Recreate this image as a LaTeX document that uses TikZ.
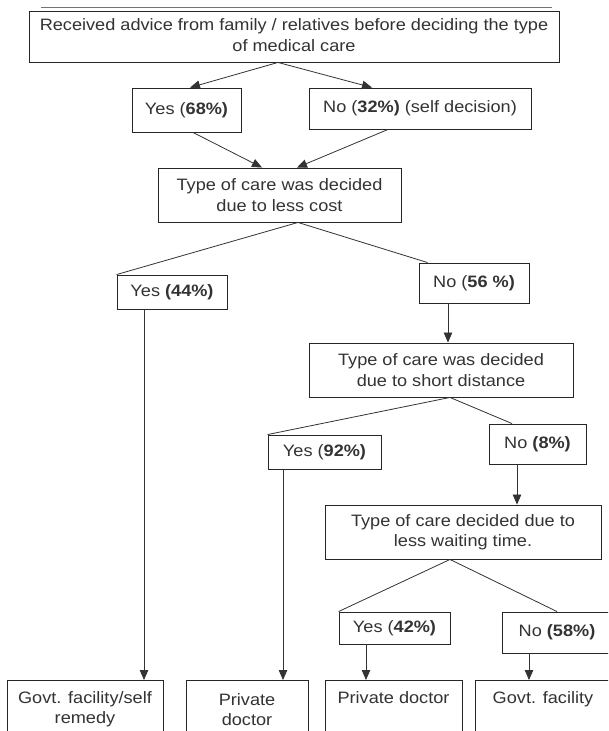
\documentclass[tikz,border=0pt]{standalone}
\usepackage{fontspec}
\setmainfont[FakeStretch=1.1]{Liberation Sans}
\usetikzlibrary{arrows.meta}
\begin{document}
\begin{tikzpicture}[x=1pt,y=-1pt,
  box/.style={draw=black!85, line width=0.9pt, inner sep=0pt, align=center, text=black!80,
    font=\fontsize{16.5}{20.5}\selectfont},
  bottombox/.style={box, anchor=north, minimum height=58pt},
  arr/.style={draw=black!80, line width=0.8pt, -{Triangle[length=10pt,width=8.5pt]}},
  ln/.style={draw=black!80, line width=0.8pt}]
\fill[white] (0,0) rectangle (608,731);
\useasboundingbox (0,0) rectangle (608,731);
\clip (0,0) rectangle (608,731);
\draw[black!55, line width=0.8pt] (41,7) -- (552,7);
% nodes
\node[box, minimum width=530pt, minimum height=51pt] (top) at (294,36.5)
  {\raisebox{3pt}{\shortstack{Received advice from family / relatives before deciding the type\\[2pt]of medical care}}};
\node[box, minimum width=109pt, minimum height=44pt] (yes68) at (186.5,110) {Yes (\textbf{68\%)}};
\node[box, minimum width=222pt, minimum height=41pt] (no32) at (420,108.5) {No (\textbf{32\%)} (self decision)};
\node[box, minimum width=243pt, minimum height=54pt] (cost) at (279.5,195) {Type of care was decided\\due to less cost};
\node[box, minimum width=110pt, minimum height=34pt] (yes44) at (172,292) {Yes \textbf{(44\%)}};
\node[box, minimum width=110pt, minimum height=40pt] (no56) at (474,283) {No (\textbf{56 \%)}};
\node[box, minimum width=264pt, minimum height=54pt] (dist) at (441,370) {Type of care was decided\\due to short distance};
\node[box, minimum width=113pt, minimum height=34pt] (yes92) at (324.5,452) {Yes (\textbf{92\%)}};
\node[box, minimum width=97pt, minimum height=40pt] (no8) at (537.5,444) {No \textbf{(8\%)}};
\node[box, minimum width=276pt, minimum height=54pt] (wait) at (463,532) {Type of care decided due to\\less waiting time.};
\node[box, minimum width=111pt, minimum height=32pt] (yes42) at (394.5,628) {Yes (\textbf{42\%)}};
\node[box, minimum width=110pt, minimum height=41pt] (no58) at (557,632.5) {No \textbf{(58\%)}};
\node[bottombox, minimum width=156pt] (b1) at (85,680) {Govt. facility/self\\remedy};
\node[bottombox, minimum width=122pt] (b2) at (247,680) {Private\\doctor};
\node[bottombox, minimum width=137pt] (b3) at (393.5,680) {Private doctor\\\phantom{g}};
\node[bottombox, minimum width=136pt] (b4) at (543,680) {Govt. facility\\\phantom{g}};
% connectors
\draw[arr] ([xshift=-16pt]top.south) -- ([xshift=3.5pt]yes68.north);
\draw[arr] ([xshift=-16pt]top.south) -- ([xshift=-48pt]no32.north);
\draw[arr] ([xshift=6.5pt]yes68.south) -- ([xshift=-17.5pt]cost.north);
\draw[arr] ([xshift=-32pt]no32.south) -- ([xshift=17.5pt]cost.north);
\draw[ln] ([xshift=18.5pt]cost.south) -- (yes44.north west);
\draw[ln] ([xshift=18.5pt]cost.south) -- ([xshift=9pt]no56.north west);
\draw[arr] ([xshift=-26pt]no56.south) -- ([xshift=-26pt]no56.south |- dist.north);
\draw[ln] ([xshift=9pt]dist.south) -- (yes92.north west);
\draw[ln] ([xshift=9pt]dist.south) -- ([xshift=-25.5pt]no8.north);
\draw[arr] ([xshift=-20.5pt]no8.south) -- ([xshift=-20.5pt]no8.south |- wait.north);
\draw[ln] ([xshift=-13pt]wait.south) -- (yes42.north west);
\draw[ln] ([xshift=-13pt]wait.south) -- (no58.north);
\draw[arr] ([xshift=-28.5pt]yes42.south) -- ([xshift=-28.5pt]yes42.south |- b3.north);
\draw[arr] ([xshift=-28pt]no58.south) -- ([xshift=-28pt]no58.south |- b4.north);
\draw[arr] ([xshift=-28pt]yes44.south) -- ([xshift=-28pt]yes44.south |- b1.north);
\draw[arr] ([xshift=-41.5pt]yes92.south) -- ([xshift=-41.5pt]yes92.south |- b2.north);
\end{tikzpicture}
\end{document}
